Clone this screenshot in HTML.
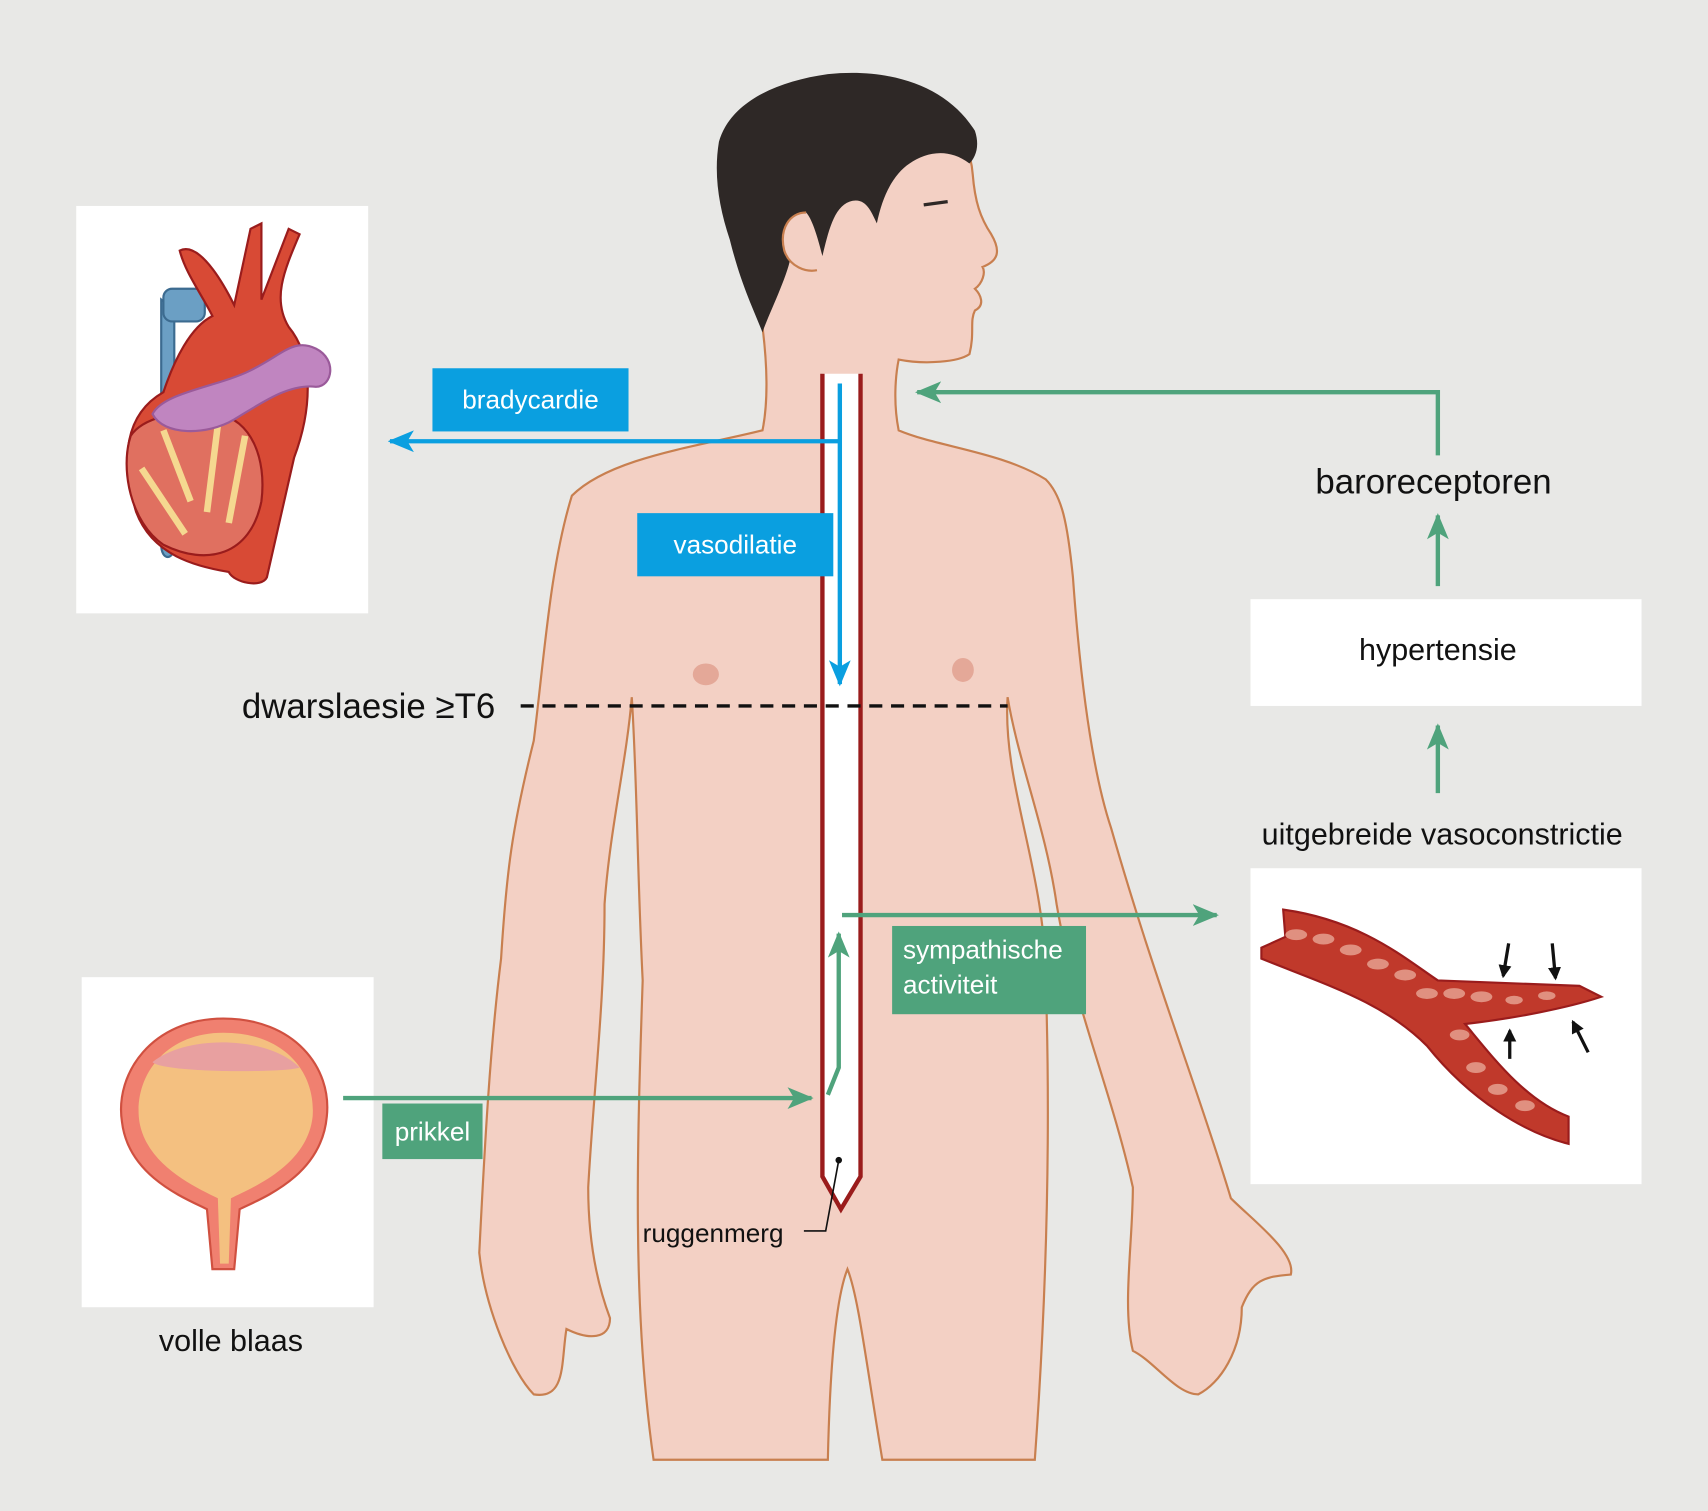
<!DOCTYPE html>
<html><head><meta charset="utf-8"><style>
html,body{margin:0;padding:0;background:#e8e8e6}
svg{display:block}
text{font-family:"Liberation Sans",sans-serif}
</style></head><body>
<svg width="1708" height="1511" viewBox="0 0 1568 1387" xmlns="http://www.w3.org/2000/svg">
<defs>
<marker id="ab" markerWidth="10" markerHeight="10" refX="8" refY="5" orient="auto" markerUnits="userSpaceOnUse"><path d="M0,0 L10,5 L0,10 L3,5Z" fill="#0a9fe0"/></marker>
<marker id="ag" markerWidth="24" markerHeight="20" refX="22" refY="10" orient="auto" markerUnits="userSpaceOnUse"><path d="M0,0 L24,10 L0,20 L6,10Z" fill="#4fa37c"/></marker>
<marker id="ab2" markerWidth="24" markerHeight="20" refX="22" refY="10" orient="auto" markerUnits="userSpaceOnUse"><path d="M0,0 L24,10 L0,20 L6,10Z" fill="#0a9fe0"/></marker>
<marker id="ak" markerWidth="12" markerHeight="12" refX="10" refY="6" orient="auto" markerUnits="userSpaceOnUse"><path d="M0,0 L12,6 L0,12Z" fill="#111"/></marker>
</defs>
<rect width="1568" height="1387" fill="#e8e8e6"/>

<!-- body -->
<path d="M700,300 C705,340 705,370 700,395 C640,410 560,420 525,455 C505,520 500,600 490,680 C470,760 465,800 460,880 C450,960 445,1050 440,1150 C445,1200 470,1260 490,1280 C520,1285 515,1250 520,1220 C540,1230 560,1230 560,1210 C545,1170 540,1130 540,1090 C545,1000 555,920 555,830 C560,760 575,700 580,640 C585,720 585,800 590,900 C585,1050 580,1200 600,1340 L760,1340 C762,1250 768,1190 778,1165 C788,1190 795,1250 810,1340 L950,1340 C960,1200 965,1050 960,900 C960,800 920,720 925,640 C935,700 960,760 970,830 C985,920 1020,1000 1040,1090 C1040,1140 1030,1200 1040,1240 C1060,1250 1080,1280 1100,1280 C1120,1270 1140,1240 1140,1200 C1150,1175 1160,1172 1185,1170 C1190,1150 1150,1120 1130,1100 C1100,1000 1060,900 1020,760 C1000,700 990,600 985,530 C980,480 975,455 960,440 C920,415 860,410 825,395 C820,370 822,345 825,330 C850,335 880,332 890,325 C895,305 890,295 895,285 C905,280 900,270 895,265 C902,260 905,250 902,245 C915,240 920,232 910,215 C900,200 895,185 893,160 C890,120 860,80 800,75 C740,75 700,100 690,160 C680,220 690,270 700,300Z" fill="#f3d0c4" stroke="#c87f4f" stroke-width="2"/>
<!-- hair -->
<path d="M660,130 C670,95 710,75 760,68 C820,62 870,80 895,120 C900,135 895,145 890,150 C870,135 850,140 835,150 C820,160 810,180 805,205 C800,195 795,180 780,185 C765,190 760,215 755,235 C750,215 745,200 740,195 C725,200 720,220 725,240 C720,260 705,290 700,305 C690,280 680,260 670,220 C660,190 655,160 660,130Z" fill="#2e2826"/>
<path d="M740,195 C725,195 715,210 720,230 C725,245 740,250 750,248" fill="#f3d0c4" stroke="#c87f4f" stroke-width="2"/>
<path d="M848,188 L870,185" stroke="#2e2826" stroke-width="3"/>
<ellipse cx="648" cy="619" rx="12" ry="10" fill="#e4a898"/>
<ellipse cx="884" cy="615" rx="10" ry="11" fill="#e4a898"/>

<!-- spinal cord -->
<path d="M755,343 L755,1080 L772,1110 L790,1080 L790,343" fill="#fff" stroke="#9a1c1c" stroke-width="4"/>
<circle cx="770" cy="1065" r="3" fill="#111"/>
<path d="M770,1065 L758,1130 L738,1130" fill="none" stroke="#111" stroke-width="1.5"/>
<text x="590" y="1140" font-size="24" fill="#111">ruggenmerg</text>

<!-- boxes -->
<rect x="70" y="189" width="268" height="374" fill="#fff"/>
<rect x="75" y="897" width="268" height="303" fill="#fff"/>
<rect x="1148" y="550" width="359" height="98" fill="#fff"/>
<rect x="1148" y="797" width="359" height="290" fill="#fff"/>

<!-- heart -->
<path d="M148,275 L148,500 C148,515 160,515 160,500 L160,285Z" fill="#6b9fc4" stroke="#3c6b90" stroke-width="2"/>
<rect x="150" y="265" width="38" height="30" rx="8" fill="#6b9fc4" stroke="#3c6b90" stroke-width="2"/>
<path d="M165,230 C185,220 210,270 215,280 L230,210 L240,205 L240,275 L265,210 L275,215 C260,250 250,275 265,300 C290,330 285,380 270,420 L245,530 C240,540 215,535 210,525 C180,520 140,510 125,470 C110,420 115,380 150,360 C160,330 175,300 195,290 C185,270 170,250 165,230Z" fill="#d84a35" stroke="#9a1c1c" stroke-width="2"/>
<path d="M120,400 C110,430 120,480 150,500 C190,520 230,510 240,460 C245,420 230,385 200,380 C160,375 130,385 120,400Z" fill="#e07060" stroke="#9a1c1c" stroke-width="2"/>
<path d="M150,395 L175,460 M200,390 L190,470 M225,400 L210,480 M130,430 L170,490" stroke="#f5d890" stroke-width="6"/>
<path d="M140,380 C150,360 200,355 230,340 C260,325 270,310 290,320 C310,330 305,355 290,355 C265,352 240,370 215,385 C190,400 150,400 140,380Z" fill="#c085c0" stroke="#9a5a9a" stroke-width="2"/>

<!-- bladder -->
<path d="M205,935 C140,935 105,985 112,1030 C118,1080 170,1100 190,1110 L195,1165 L215,1165 L220,1110 C240,1100 295,1080 300,1025 C305,980 270,935 205,935Z" fill="#f08070" stroke="#d05040" stroke-width="2"/>
<path d="M205,948 C150,948 122,990 128,1030 C135,1070 180,1090 200,1100 L202,1160 L210,1160 L212,1100 C232,1090 282,1070 287,1025 C290,985 262,948 205,948Z" fill="#f4c080"/>
<path d="M140,975 C170,950 245,950 275,980 C260,985 150,985 140,975Z" fill="#e8a0a0"/>

<!-- vessel -->
<path d="M1178,835 C1250,845 1290,880 1320,900 L1450,905 L1470,915 C1440,925 1390,935 1345,940 C1370,970 1400,1010 1440,1025 L1440,1050 C1400,1040 1350,1010 1310,960 C1270,920 1220,905 1158,880 L1158,870 L1180,860Z" fill="#c0392b" stroke="#9a1c1c" stroke-width="2"/>
<g fill="#e09080">
<ellipse cx="1190" cy="858" rx="10" ry="5"/><ellipse cx="1215" cy="862" rx="10" ry="5"/><ellipse cx="1240" cy="872" rx="10" ry="5"/><ellipse cx="1265" cy="885" rx="10" ry="5"/><ellipse cx="1290" cy="895" rx="10" ry="5"/><ellipse cx="1310" cy="912" rx="10" ry="5"/><ellipse cx="1335" cy="912" rx="10" ry="5"/><ellipse cx="1360" cy="915" rx="10" ry="5"/><ellipse cx="1390" cy="918" rx="8" ry="4"/><ellipse cx="1420" cy="914" rx="8" ry="4"/><ellipse cx="1340" cy="950" rx="9" ry="5"/><ellipse cx="1355" cy="980" rx="9" ry="5"/><ellipse cx="1375" cy="1000" rx="9" ry="5"/><ellipse cx="1400" cy="1015" rx="9" ry="5"/>
</g>
<g stroke="#111" stroke-width="3">
<line x1="1385" y1="866" x2="1380" y2="896" marker-end="url(#ak)"/>
<line x1="1425" y1="866" x2="1428" y2="898" marker-end="url(#ak)"/>
<line x1="1386" y1="972" x2="1386" y2="946" marker-end="url(#ak)"/>
<line x1="1458" y1="966" x2="1444" y2="938" marker-end="url(#ak)"/>
</g>

<!-- blue arrows -->
<line x1="771" y1="405" x2="358" y2="405" stroke="#0a9fe0" stroke-width="4" marker-end="url(#ab2)"/>
<line x1="771" y1="352" x2="771" y2="628" stroke="#0a9fe0" stroke-width="4" marker-end="url(#ab2)"/>
<rect x="397" y="338" width="180" height="58" fill="#0a9fe0"/>
<text x="487" y="375" font-size="24" fill="#fff" text-anchor="middle">bradycardie</text>
<rect x="585" y="471" width="180" height="58" fill="#0a9fe0"/>
<text x="675" y="508" font-size="24" fill="#fff" text-anchor="middle">vasodilatie</text>

<!-- dashed -->
<line x1="478" y1="648" x2="925" y2="648" stroke="#111" stroke-width="3" stroke-dasharray="12,8"/>
<text x="222" y="659" font-size="32" fill="#111">dwarslaesie ≥T6</text>

<!-- green arrows -->
<g stroke="#4fa37c" stroke-width="4" fill="none">
<line x1="315" y1="1008" x2="745" y2="1008" marker-end="url(#ag)"/>
<polyline points="760,1005 770,980 770,857" marker-end="url(#ag)"/>
<line x1="773" y1="840" x2="1117" y2="840" marker-end="url(#ag)"/>
<line x1="1320" y1="538" x2="1320" y2="473" marker-end="url(#ag)"/>
<line x1="1320" y1="728" x2="1320" y2="666" marker-end="url(#ag)"/>
<polyline points="1320,418 1320,360 842,360" marker-end="url(#ag)"/>
</g>
<rect x="819" y="850" width="178" height="81" fill="#4fa37c"/>
<text x="829" y="880" font-size="24" fill="#fff">sympathische</text>
<text x="829" y="912" font-size="24" fill="#fff">activiteit</text>
<rect x="351" y="1013" width="92" height="51" fill="#4fa37c"/>
<text x="397" y="1047" font-size="24" fill="#fff" text-anchor="middle">prikkel</text>

<text x="1316" y="453" font-size="32" fill="#111" text-anchor="middle">baroreceptoren</text>
<text x="1320" y="606" font-size="28" fill="#111" text-anchor="middle">hypertensie</text>
<text x="1324" y="775" font-size="28" fill="#111" text-anchor="middle">uitgebreide vasoconstrictie</text>
<text x="212" y="1240" font-size="28" fill="#111" text-anchor="middle">volle blaas</text>
</svg>
</body></html>
